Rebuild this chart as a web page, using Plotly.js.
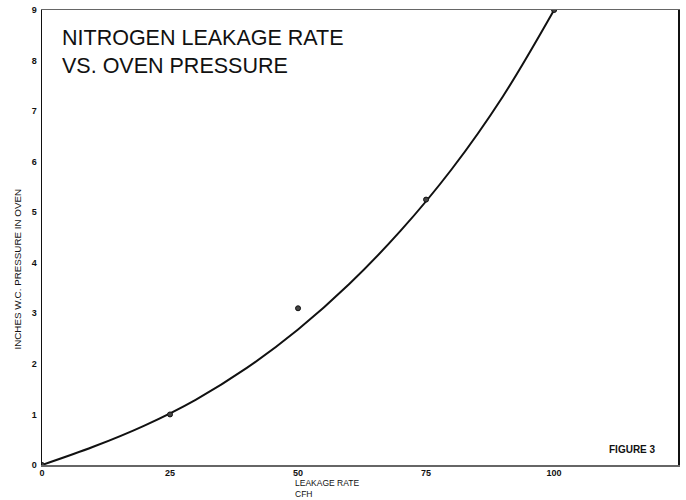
<!DOCTYPE html>
<html>
<head>
<meta charset="utf-8">
<script src="https://cdn.plot.ly/plotly-3.0.1.min.js"></script>
<style>html,body{margin:0;padding:0;background:#fff;}#chart{width:686px;height:500px;}</style>
</head>
<body>
<div id="chart"></div>
<script>
// Measured points
const pointX = [0, 25, 50, 75, 100];
const pointY = [0, 1.0, 3.1, 5.25, 9.0];
// Fitted curve
const curveX = [0, 10, 20, 30, 40, 50, 60, 70, 80, 90, 100];
const curveY = [0, 0.36, 0.78, 1.29, 1.92, 2.68, 3.58, 4.63, 5.85, 7.29, 9.0];
const xTicks = [0, 25, 50, 75, 100];
const yTicks = [0, 1, 2, 3, 4, 5, 6, 7, 8, 9];

const font = "Liberation Sans, Arial, sans-serif";

const traces = [
  {x: curveX, y: curveY, mode: 'lines', type: 'scatter',
   line: {color: '#111', width: 2, shape: 'spline', smoothing: 1.0}, hoverinfo: 'skip'},
  {x: pointX, y: pointY, mode: 'markers', type: 'scatter',
   marker: {color: '#444', size: 5, symbol: 'circle', line: {color: '#111', width: 1}}}
];

const layout = {
  width: 686, height: 500,
  margin: {l: 42, r: 8, t: 10, b: 35, pad: 0},
  paper_bgcolor: '#fff', plot_bgcolor: '#fff',
  showlegend: false,
  font: {family: font, color: '#111'},
  xaxis: {range: [0, 124.2], tickvals: xTicks, ticktext: xTicks.map(v => '<b>' + v + '</b>'),
    showgrid: false, zeroline: false, showline: true, linecolor: '#666', linewidth: 1.5,
    mirror: true, ticks: '', ticklabelstandoff: -1, tickfont: {size: 9, family: font, color: '#111'}, fixedrange: true},
  yaxis: {range: [0, 9], tickvals: yTicks, ticktext: yTicks.map(v => '<b>' + v + '</b>'),
    showgrid: false, zeroline: false, showline: true, linecolor: '#111', linewidth: 1.5,
    mirror: true, ticks: '', ticklabelstandoff: 2, tickfont: {size: 9, family: font, color: '#111'}, fixedrange: true},
  annotations: [
    {xref: 'paper', yref: 'paper', x: 0.029, y: 0.97, xanchor: 'left', yanchor: 'top', align: 'left',
     text: 'NITROGEN LEAKAGE RATE<br>VS. OVEN PRESSURE', showarrow: false,
     font: {size: 21.5, family: font, color: '#111'}},
    {xref: 'paper', yref: 'paper', x: 0.9686, y: 0.033, xanchor: 'right', yanchor: 'middle',
     text: '<b>FIGURE 3</b>', showarrow: false, font: {size: 10, family: font, color: '#111'}},
    {xref: 'paper', yref: 'paper', x: 0.3946, y: -0.0396, xanchor: 'left', yanchor: 'middle', align: 'left',
     text: 'LEAKAGE RATE', showarrow: false, font: {size: 8.5, family: font, color: '#111'}},
    {xref: 'paper', yref: 'paper', x: 0.3946, y: -0.0637, xanchor: 'left', yanchor: 'middle', align: 'left',
     text: 'CFH', showarrow: false, font: {size: 8.5, family: font, color: '#111'}},
    {xref: 'paper', yref: 'paper', x: -0.039, y: 0.43, xanchor: 'center', yanchor: 'middle',
     text: 'INCHES W.C. PRESSURE IN OVEN', textangle: -90, showarrow: false,
     font: {size: 9.8, family: font, color: '#111'}}
  ]
};

Plotly.newPlot('chart', traces, layout, {staticPlot: true, displayModeBar: false});
</script>
</body>
</html>
